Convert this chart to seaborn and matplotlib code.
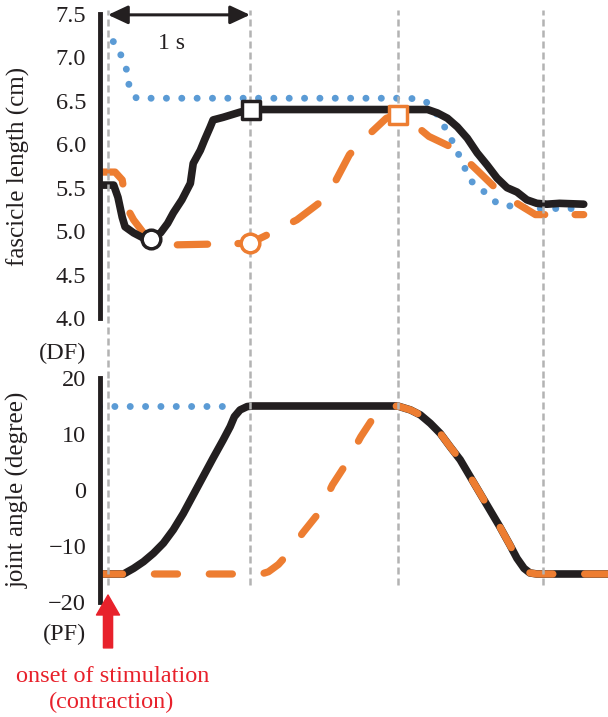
import matplotlib
matplotlib.use('Agg')
import matplotlib.pyplot as plt
import seaborn as sns

# time axis in seconds, 0 = onset of stimulation
# --- fascicle length (cm) ---
t_black_fl = [-0.06, 0.04, 0.07, 0.10, 0.12, 0.18, 0.25, 0.30, 0.37, 0.42, 0.46, 0.52,
              0.58, 0.60, 0.65, 0.68, 0.72, 0.74, 0.81, 0.93, 1.01, 2.13, 2.25, 2.32,
              2.39, 2.46, 2.53, 2.60, 2.67, 2.74, 2.81, 2.88, 2.95, 3.02, 3.09, 3.18, 3.35]
black_fl = [5.53, 5.53, 5.39, 5.16, 5.05, 4.98, 4.92, 4.91, 4.98, 5.09, 5.21, 5.36,
            5.55, 5.78, 5.93, 6.05, 6.20, 6.28, 6.31, 6.37, 6.40, 6.40, 6.40, 6.36,
            6.30, 6.20, 6.07, 5.90, 5.76, 5.61, 5.50, 5.45, 5.36, 5.32, 5.31, 5.32, 5.31]

t_orange_fl = [-0.06, 0.05, 0.10, 0.13, 0.18, 0.25, 0.35, 0.42, 1.00, 1.15, 1.33, 1.50,
               1.60, 1.70, 1.81, 1.96, 2.04, 2.12, 2.26, 2.44, 2.60, 2.72, 2.86, 3.01,
               3.06, 3.35]
orange_fl = [5.68, 5.68, 5.59, 5.28, 5.13, 4.98, 4.90, 4.84, 4.86, 4.98, 5.13, 5.34,
             5.57, 5.88, 6.07, 6.30, 6.34, 6.28, 6.09, 5.95, 5.70, 5.51, 5.34, 5.19,
             5.19, 5.19]

t_blue_fl = [-0.06, 0.04, 0.10, 0.13, 0.15, 0.20, 2.13, 2.24, 2.31, 2.37, 2.42, 2.47,
             2.52, 2.57, 2.66, 2.74, 2.86, 2.97, 3.31]
blue_fl = [7.26, 7.18, 7.00, 6.86, 6.66, 6.53, 6.53, 6.49, 6.36, 6.20, 6.05, 5.88,
           5.70, 5.55, 5.44, 5.32, 5.28, 5.26, 5.26]

# key points (open markers)
t_black_sq, black_sq = [1.01], [6.40]
t_black_ci, black_ci = [0.30], [4.91]
t_orange_sq, orange_sq = [2.04], [6.34]
t_orange_ci, orange_ci = [1.00], [4.86]

# --- joint angle (degree) ---
t_black_ja = [-0.06, 0.11, 0.18, 0.25, 0.32, 0.39, 0.46, 0.53, 0.60, 0.67, 0.74, 0.81,
              0.86, 0.89, 0.93, 0.98, 1.02, 2.04, 2.13, 2.20, 2.27, 2.34, 2.41, 2.48,
              2.55, 2.62, 2.69, 2.76, 2.83, 2.88, 2.93, 2.97, 3.02, 3.52]
black_ja = [-15, -15, -14.0, -12.8, -11.3, -9.5, -7.1, -4.2, -0.9, 2.4, 5.7, 8.9,
            11.3, 13.1, 14.3, 14.9, 15, 15, 14.3, 13.4, 11.9, 10.1, 7.7, 5.4,
            2.4, -0.6, -3.6, -6.6, -9.8, -12.2, -14.0, -14.8, -15, -15]

t_orange_ja = [-0.06, 1.08, 1.13, 1.20, 1.26, 1.37, 1.49, 1.58, 1.68, 1.78, 1.89, 1.96,
               2.04, 2.13, 2.20, 2.27, 2.34, 2.41, 2.48, 2.55, 2.62, 2.69, 2.76, 2.83,
               2.88, 2.93, 2.97, 3.02, 3.52]
orange_ja = [-15, -15, -14.6, -13.3, -11.6, -7.7, -3.9, 0.9, 4.8, 9.5, 13.75, 14.8,
             15, 14.3, 13.4, 11.9, 10.1, 7.7, 5.4, 2.4, -0.6, -3.6, -6.6, -9.8,
             -12.2, -14.0, -14.8, -15, -15]

t_blue_ja = [-0.06, 0.85]
blue_ja = [15, 15]

# vertical reference lines (s)
ref_times = [0, 1.0, 2.04, 3.06]

BLACK = '#231f20'
ORANGE = '#ed7d31'
BLUE = '#5b9bd5'
GREY = '#b3b3b3'
RED = '#e8212b'

sns.set_theme(style='white')
plt.rcParams['font.family'] = ['Liberation Serif', 'DejaVu Serif']

fig = plt.figure(figsize=(6.08, 7.17), dpi=100)
ax1 = fig.add_axes([0.1645, 0.5565, 0.8355, 0.424])
ax2 = fig.add_axes([0.1645, 0.1604, 0.8355, 0.3124])

xlim = (-0.0563, 3.521)
for ax in (ax1, ax2):
    ax.set_xlim(*xlim)
    ax.set_xticks([])
    ax.patch.set_visible(False)
    for s in ('top', 'right', 'bottom'):
        ax.spines[s].set_visible(False)
    ax.spines['left'].set_linewidth(3.5)
    ax.spines['left'].set_color(BLACK)
    ax.tick_params(axis='y', length=0, pad=10, labelsize=17.5, labelcolor=BLACK)

dotted = (0, (0.01, 2.2))

# top panel
sns.lineplot(x=t_blue_fl, y=blue_fl, ax=ax1, sort=False, estimator=None, color=BLUE,
             linewidth=5.0, linestyle=dotted, dash_capstyle='round')
sns.lineplot(x=t_orange_fl, y=orange_fl, ax=ax1, sort=False, estimator=None, color=ORANGE,
             linewidth=5.2, linestyle=(0, (4.2, 4.2)), dash_capstyle='round')
sns.lineplot(x=t_black_fl, y=black_fl, ax=ax1, sort=False, estimator=None, color=BLACK,
             linewidth=5.5, solid_joinstyle='round')
sns.scatterplot(x=t_black_sq, y=black_sq, ax=ax1, marker='s', s=170, facecolor='white',
                edgecolor=BLACK, linewidth=2.5, zorder=5)
sns.scatterplot(x=t_black_ci, y=black_ci, ax=ax1, marker='o', s=180, facecolor='white',
                edgecolor=BLACK, linewidth=2.5, zorder=5)
sns.scatterplot(x=t_orange_sq, y=orange_sq, ax=ax1, marker='s', s=170, facecolor='white',
                edgecolor=ORANGE, linewidth=2.5, zorder=5)
sns.scatterplot(x=t_orange_ci, y=orange_ci, ax=ax1, marker='o', s=180, facecolor='white',
                edgecolor=ORANGE, linewidth=2.5, zorder=5)
ax1.set_ylim(4.0, 7.5)
ax1.set_yticks([4.0, 4.5, 5.0, 5.5, 6.0, 6.5, 7.0, 7.5])
ax1.set_yticklabels([f'{v:.1f}' for v in ax1.get_yticks()])
ax1.set_ylabel('fascicle length (cm)', fontsize=18, color=BLACK)
ax1.yaxis.set_label_coords(-0.138, 0.5)

# bottom panel
sns.lineplot(x=t_blue_ja, y=blue_ja, ax=ax2, sort=False, estimator=None, color=BLUE,
             linewidth=5.0, linestyle=dotted, dash_capstyle='round')
sns.lineplot(x=t_black_ja, y=black_ja, ax=ax2, sort=False, estimator=None, color=BLACK,
             linewidth=5.5, solid_joinstyle='round')
sns.lineplot(x=t_orange_ja, y=orange_ja, ax=ax2, sort=False, estimator=None, color=ORANGE,
             linewidth=5.2, linestyle=(0, (3.2, 4.4)), dash_capstyle='round')
ax2.set_ylim(-20, 20)
ax2.set_yticks([-20, -10, 0, 10, 20])
ax2.set_ylabel('joint angle (degree)', fontsize=18, color=BLACK)
ax2.yaxis.set_label_coords(-0.138, 0.5)

# dashed reference lines running through both panels
for t in ref_times:
    ax1.axvline(t, ymin=-0.197, ymax=1.013, color=GREY, lw=1.8,
                linestyle=(0, (2.8, 1.6)), clip_on=False, zorder=3)
    ax2.axvline(t, ymin=0.076, ymax=1.0, color=GREY, lw=1.8,
                linestyle=(0, (2.8, 1.6)), clip_on=False, zorder=3)

# 1 s scale arrow
ax1.annotate('', xy=(1.0, 7.49), xytext=(0, 7.49), annotation_clip=False,
             arrowprops=dict(arrowstyle='<|-|>,head_length=0.6,head_width=0.28',
                             mutation_scale=20, lw=2.2, color=BLACK,
                             shrinkA=0, shrinkB=0))
ax1.text(0.45, 7.155, '1 s', fontsize=17, ha='center', va='center', color=BLACK)

# onset of stimulation arrow
ax2.annotate('', xy=(0, -18.75), xytext=(0, -28.2), annotation_clip=False,
             arrowprops=dict(arrowstyle='simple,head_length=0.72,head_width=0.83,tail_width=0.33',
                             mutation_scale=20, color=RED, shrinkA=0, shrinkB=0))

fig.text(86 / 608, 1 - 353 / 717, '(DF)', fontsize=17.5, ha='right', va='center', color=BLACK)
fig.text(86 / 608, 1 - 634 / 717, '(PF)', fontsize=17.5, ha='right', va='center', color=BLACK)
fig.text(113 / 608, 1 - 682 / 717, 'onset of stimulation', fontsize=17.5,
         ha='center', va='baseline', color=RED)
fig.text(112 / 608, 1 - 708 / 717, '(contraction)', fontsize=17.5,
         ha='center', va='baseline', color=RED)

fig.savefig('out.png', dpi=100)
